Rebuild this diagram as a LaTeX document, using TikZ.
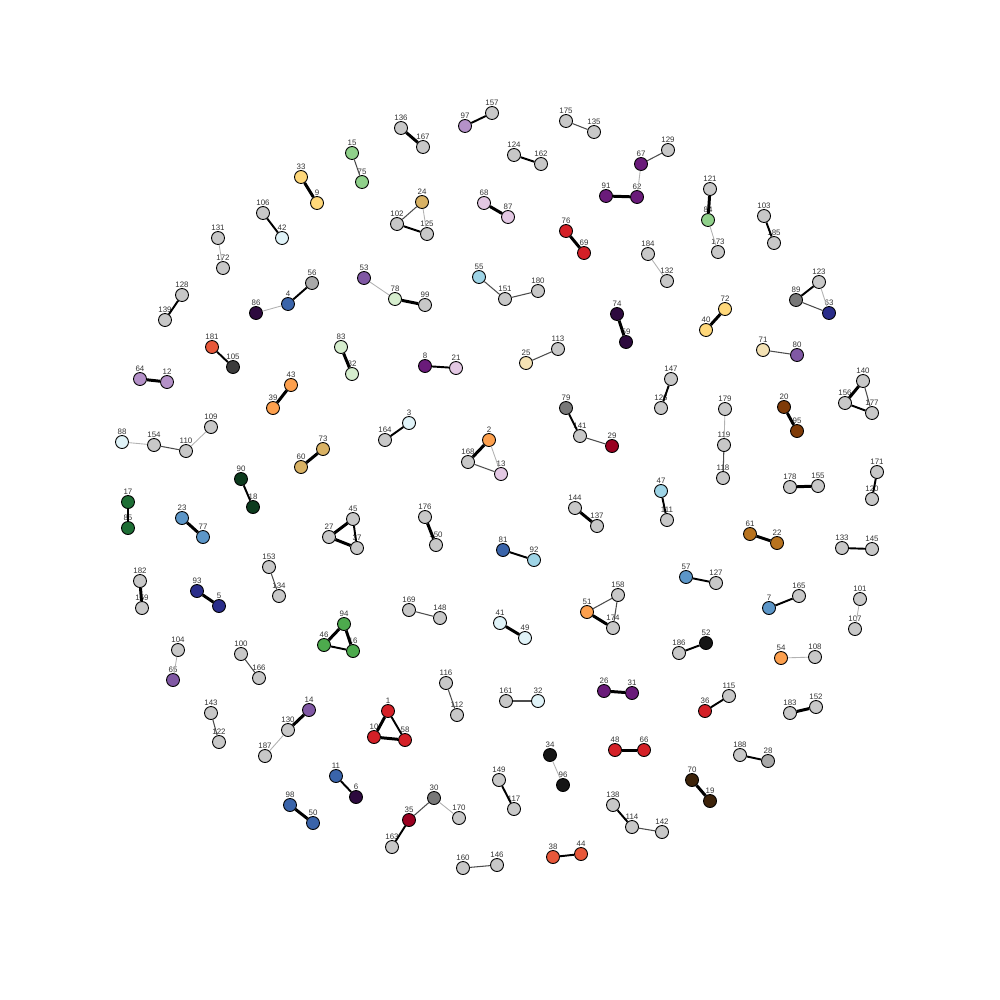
\documentclass[tikz,border=0pt]{standalone}
\usepackage{fontspec}
\usepackage{tikz}
\newfontfamily\lblfont{Liberation Sans}

\definecolor{cgrey}{HTML}{C8C8C8}
\definecolor{cgreyb}{HTML}{A9A9A9}
\definecolor{cgreyc}{HTML}{787878}
\definecolor{cgreyd}{HTML}{3C3C3C}
\definecolor{cblack}{HTML}{151515}
\definecolor{clgreen}{HTML}{90D18B}
\definecolor{cyellow}{HTML}{FFD87A}
\definecolor{cpale}{HTML}{E0F3F8}
\definecolor{cblue}{HTML}{3A64AA}
\definecolor{cdpurple}{HTML}{2D0A3E}
\definecolor{cpurple}{HTML}{8058A4}
\definecolor{clav}{HTML}{B491C8}
\definecolor{corred}{HTML}{E8583A}
\definecolor{cpgreen}{HTML}{D6EECE}
\definecolor{ctan}{HTML}{D9B264}
\definecolor{cpink}{HTML}{E3C8E3}
\definecolor{cred}{HTML}{D42027}
\definecolor{cviolet}{HTML}{6A1B7A}
\definecolor{csky}{HTML}{9ED4E6}
\definecolor{ccream}{HTML}{F4E2B4}
\definecolor{cnavy}{HTML}{2A2D8A}
\definecolor{corange}{HTML}{FDA04E}
\definecolor{cdgreen}{HTML}{0D3B1E}
\definecolor{cgreen}{HTML}{1E6E35}
\definecolor{cmblue}{HTML}{5C96C8}
\definecolor{cbrown}{HTML}{7F3B08}
\definecolor{cochre}{HTML}{B8731F}
\definecolor{cmgreen}{HTML}{4DAA4D}
\definecolor{cdred}{HTML}{990020}
\definecolor{cdbrown}{HTML}{3D230A}

\begin{document}
\begin{tikzpicture}[
  x=0.2mm, y=-0.2mm,
  vtx/.style={circle, draw=black, line width=0.5pt, minimum size=2.6mm, inner sep=0pt, label distance=0.7mm},
  every label/.style={font=\lblfont\fontsize{4.5}{5}\selectfont, text=black!80, inner sep=0pt},
  e3/.style={line width=1.7pt, black},
  e2/.style={line width=1.1pt, black},
  e1/.style={line width=0.6pt, black!70},
  e0/.style={line width=0.5pt, black!30}
]
\useasboundingbox (0,0) rectangle (1000,1000);

% vertices, one list per colour
\foreach \n/\x/\y in {106/263/213, 131/218/238, 172/223/268, 128/182/295, 139/165/320,
  136/401/128, 167/423/147, 157/492/113, 175/566/121, 135/594/132, 124/514/155, 162/541/164,
  102/397/224, 125/427/234, 99/425/305, 151/505/299, 180/538/291, 113/558/349, 129/668/150,
  121/710/189, 173/718/252, 103/764/216, 185/774/243, 184/648/254, 132/667/281, 123/819/282,
  109/211/427, 154/154/445, 110/186/451, 45/353/519, 27/329/537, 37/357/548, 182/140/581,
  159/142/608, 153/269/567, 134/279/596, 164/385/440, 141/580/436, 168/468/462, 176/425/517,
  150/436/545, 144/575/508, 137/597/526, 169/409/610, 148/440/618, 158/618/595, 174/613/628,
  147/671/379, 126/661/408, 179/725/409, 119/724/445, 118/723/478, 140/863/381, 156/845/403,
  177/872/413, 171/877/472, 120/872/499, 178/790/487, 155/818/486, 111/667/520, 133/842/548,
  145/872/549, 127/716/583, 165/799/596, 101/860/599, 107/855/629, 104/178/650, 100/241/654,
  166/259/678, 143/211/713, 122/219/742, 130/288/730, 187/265/756, 116/446/683, 112/457/715,
  161/506/701, 149/499/780, 117/514/809, 170/459/818, 163/392/847, 160/463/868, 146/497/865,
  138/613/805, 114/632/827, 142/662/832, 186/679/653, 108/815/657, 115/729/696, 183/790/713,
  152/816/707, 188/740/755}
  \node[vtx, fill=cgrey, label=above:\n] (n\n) at (\x,\y) {};
\foreach \n/\x/\y in {56/312/283, 28/768/761}
  \node[vtx, fill=cgreyb, label=above:\n] (n\n) at (\x,\y) {};
\foreach \n/\x/\y in {89/796/300, 79/566/408, 30/434/798}
  \node[vtx, fill=cgreyc, label=above:\n] (n\n) at (\x,\y) {};
\node[vtx, fill=cgreyd, label=above:105] (n105) at (233,367) {};
\foreach \n/\x/\y in {34/550/755, 96/563/785, 52/706/643}
  \node[vtx, fill=cblack, label=above:\n] (n\n) at (\x,\y) {};
\foreach \n/\x/\y in {15/352/153, 75/362/182, 84/708/220}
  \node[vtx, fill=clgreen, label=above:\n] (n\n) at (\x,\y) {};
\foreach \n/\x/\y in {33/301/177, 9/317/203, 72/725/309, 40/706/330}
  \node[vtx, fill=cyellow, label=above:\n] (n\n) at (\x,\y) {};
\foreach \n/\x/\y in {42/282/238, 88/122/442, 3/409/423, 32/538/701, 41/500/623, 49/525/638}
  \node[vtx, fill=cpale, label=above:\n] (n\n) at (\x,\y) {};
\foreach \n/\x/\y in {4/288/304, 81/503/550, 11/336/776, 98/290/805, 50/313/823}
  \node[vtx, fill=cblue, label=above:\n] (n\n) at (\x,\y) {};
\foreach \n/\x/\y in {86/256/313, 74/617/314, 59/626/342, 6/356/797}
  \node[vtx, fill=cdpurple, label=above:\n] (n\n) at (\x,\y) {};
\foreach \n/\x/\y in {53/364/278, 14/309/710, 80/797/355, 65/173/680}
  \node[vtx, fill=cpurple, label=above:\n] (n\n) at (\x,\y) {};
\foreach \n/\x/\y in {97/465/126, 64/140/379, 12/167/382}
  \node[vtx, fill=clav, label=above:\n] (n\n) at (\x,\y) {};
\foreach \n/\x/\y in {181/212/347, 38/553/857, 44/581/854}
  \node[vtx, fill=corred, label=above:\n] (n\n) at (\x,\y) {};
\foreach \n/\x/\y in {83/341/347, 82/352/374, 78/395/299}
  \node[vtx, fill=cpgreen, label=above:\n] (n\n) at (\x,\y) {};
\foreach \n/\x/\y in {24/422/202, 73/323/449, 60/301/467}
  \node[vtx, fill=ctan, label=above:\n] (n\n) at (\x,\y) {};
\foreach \n/\x/\y in {68/484/203, 87/508/217, 21/456/368, 13/501/474}
  \node[vtx, fill=cpink, label=above:\n] (n\n) at (\x,\y) {};
\foreach \n/\x/\y in {76/566/231, 69/584/253, 1/388/711, 10/374/737, 58/405/740, 48/615/750,
  66/644/750, 36/705/711}
  \node[vtx, fill=cred, label=above:\n] (n\n) at (\x,\y) {};
\foreach \n/\x/\y in {91/606/196, 62/637/197, 67/641/164, 8/425/366, 26/604/691, 31/632/693}
  \node[vtx, fill=cviolet, label=above:\n] (n\n) at (\x,\y) {};
\foreach \n/\x/\y in {55/479/277, 92/534/560, 47/661/491}
  \node[vtx, fill=csky, label=above:\n] (n\n) at (\x,\y) {};
\foreach \n/\x/\y in {25/526/363, 71/763/350}
  \node[vtx, fill=ccream, label=above:\n] (n\n) at (\x,\y) {};
\foreach \n/\x/\y in {63/829/313, 93/197/591, 5/219/606}
  \node[vtx, fill=cnavy, label=above:\n] (n\n) at (\x,\y) {};
\foreach \n/\x/\y in {43/291/385, 39/273/408, 2/489/440, 51/587/612, 54/781/658}
  \node[vtx, fill=corange, label=above:\n] (n\n) at (\x,\y) {};
\foreach \n/\x/\y in {90/241/479, 18/253/507}
  \node[vtx, fill=cdgreen, label=above:\n] (n\n) at (\x,\y) {};
\foreach \n/\x/\y in {17/128/502, 85/128/528}
  \node[vtx, fill=cgreen, label=above:\n] (n\n) at (\x,\y) {};
\foreach \n/\x/\y in {23/182/518, 77/203/537, 57/686/577, 7/769/608}
  \node[vtx, fill=cmblue, label=above:\n] (n\n) at (\x,\y) {};
\foreach \n/\x/\y in {20/784/407, 95/797/431}
  \node[vtx, fill=cbrown, label=above:\n] (n\n) at (\x,\y) {};
\foreach \n/\x/\y in {61/750/534, 22/777/543}
  \node[vtx, fill=cochre, label=above:\n] (n\n) at (\x,\y) {};
\foreach \n/\x/\y in {94/344/624, 46/324/645, 16/353/651}
  \node[vtx, fill=cmgreen, label=above:\n] (n\n) at (\x,\y) {};
\foreach \n/\x/\y in {29/612/446, 35/409/820}
  \node[vtx, fill=cdred, label=above:\n] (n\n) at (\x,\y) {};
\foreach \n/\x/\y in {70/692/780, 19/710/801}
  \node[vtx, fill=cdbrown, label=above:\n] (n\n) at (\x,\y) {};

% links by weight
\foreach \a/\b in {33/9, 83/82, 136/167, 68/87, 76/69, 78/99, 74/59, 91/62, 121/84, 72/40,
  64/12, 43/39, 73/60, 17/85, 23/77, 27/45, 27/37, 182/159, 93/5, 94/46, 94/16, 2/168,
  176/150, 144/137, 51/174, 41/49, 20/95, 140/156, 178/155, 61/22, 14/130, 98/50, 1/10,
  10/58, 26/31, 48/66, 183/152, 70/19}
  \draw[e3] (n\a) -- (n\b);
\foreach \a/\b in {106/42, 128/139, 4/56, 181/105, 97/157, 124/162, 102/125, 8/21, 103/185,
  89/123, 90/18, 45/37, 46/16, 3/164, 79/141, 81/92, 147/126, 156/177, 171/120, 47/111,
  133/145, 57/127, 7/165, 11/6, 1/58, 149/117, 35/163, 38/44, 138/114, 186/52, 36/115, 188/28}
  \draw[e2] (n\a) -- (n\b);
\foreach \a/\b in {15/75, 175/135, 24/102, 55/151, 151/180, 25/113, 67/129, 89/63, 71/80,
  154/110, 153/134, 141/29, 168/13, 169/148, 51/158, 158/174, 119/118, 140/177, 100/166,
  143/122, 116/112, 161/32, 30/35, 160/146, 114/142}
  \draw[e1] (n\a) -- (n\b);
\foreach \a/\b in {131/172, 86/4, 24/125, 53/78, 67/62, 84/173, 184/132, 123/63, 88/154,
  110/109, 2/13, 179/119, 101/107, 104/65, 130/187, 34/96, 30/170, 54/108}
  \draw[e0] (n\a) -- (n\b);

\end{tikzpicture}
\end{document}
